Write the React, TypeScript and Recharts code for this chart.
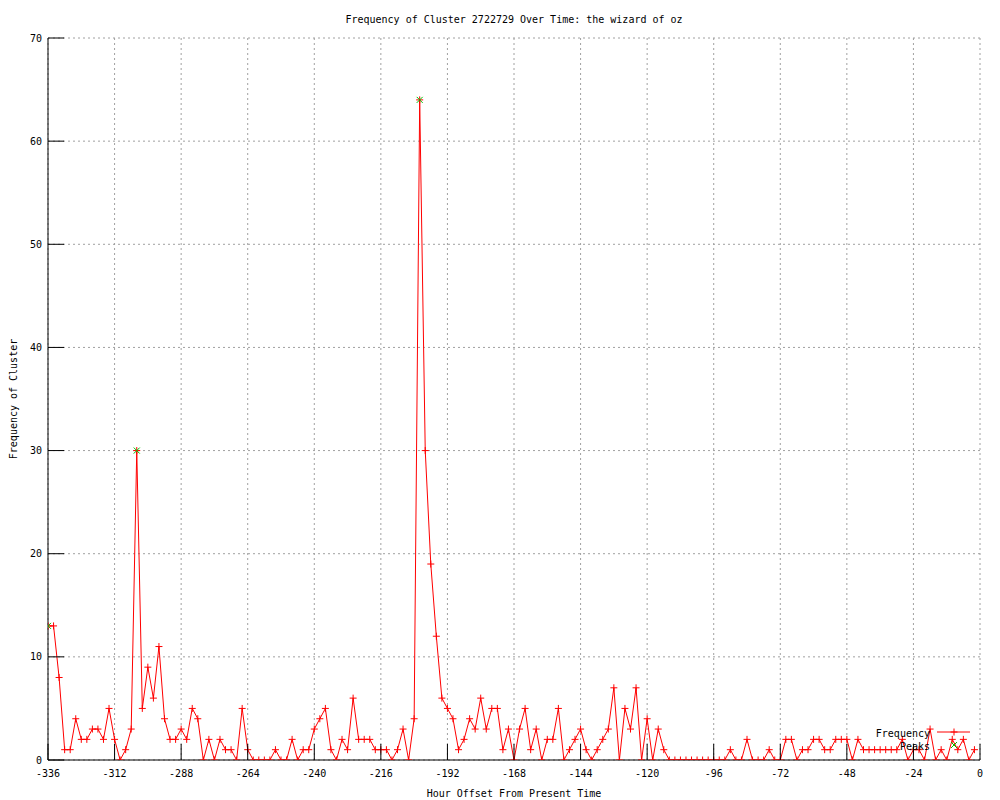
import React from "react";
import { LineChart, Line, XAxis, YAxis, CartesianGrid } from "recharts";

const START_HOUR = -336;
const HOUR_STEP = 2;

// counts every 2 hours, from -336 up to -2
const frequency = [
  13, 13, 8, 1, 1, 4, 2, 2, 3, 3, 2, 5,
  2, 0, 1, 3, 30, 5, 9, 6, 11, 4, 2, 2,
  3, 2, 5, 4, 0, 2, 0, 2, 1, 1, 0, 5,
  1, 0, 0, 0, 0, 1, 0, 0, 2, 0, 1, 1,
  3, 4, 5, 1, 0, 2, 1, 6, 2, 2, 2, 1,
  1, 1, 0, 1, 3, 0, 4, 64, 30, 19, 12, 6,
  5, 4, 1, 2, 4, 3, 6, 3, 5, 5, 1, 3,
  0, 3, 5, 1, 3, 0, 2, 2, 5, 0, 1, 2,
  3, 1, 0, 1, 2, 3, 7, 0, 5, 3, 7, 0,
  4, 0, 3, 1, 0, 0, 0, 0, 0, 0, 0, 0,
  0, 0, 0, 1, 0, 0, 2, 0, 0, 0, 1, 0,
  0, 2, 2, 0, 1, 1, 2, 2, 1, 1, 2, 2,
  2, 0, 2, 1, 1, 1, 1, 1, 1, 1, 2, 0,
  1, 1, 0, 3, 0, 1, 0, 2, 1, 2, 0, 1,
];

const peakHours = [-336, -304, -202];
const peakValues = [13, 30, 64];

const xTicks = [-336, -312, -288, -264, -240, -216, -192, -168, -144, -120, -96, -72, -48, -24, 0];
const yTicks = [0, 10, 20, 30, 40, 50, 60, 70];

const TITLE = "Frequency of Cluster 2722729 Over Time: the wizard of oz";
const X_LABEL = "Hour Offset From Present Time";
const Y_LABEL = "Frequency of Cluster";

const FONT = "'DejaVu Sans Mono', monospace";
const TICK_LEN = 16;
const RED = "#ff0000";
const GREEN = "#00c000";

const data = frequency.map((value, i) => {
  const hour = START_HOUR + i * HOUR_STEP;
  const p = peakHours.indexOf(hour);
  return { hour, frequency: value, peak: p >= 0 ? peakValues[p] : null };
});

function BottomTick({ x, y, payload }: any) {
  return (
    <g>
      <line x1={x} y1={y} x2={x} y2={y - TICK_LEN} stroke="#000" />
      <text x={x} y={y + 17} textAnchor="middle" fontSize={10} fontFamily={FONT} fill="#000">
        {payload.value}
      </text>
    </g>
  );
}

function TopTick({ x, y }: any) {
  return <line x1={x} y1={y} x2={x} y2={y + TICK_LEN} stroke="#000" />;
}

function LeftTick({ x, y, payload }: any) {
  return (
    <g>
      <line x1={x} y1={y} x2={x + TICK_LEN} y2={y} stroke="#000" />
      <text x={x - 6} y={y + 3.5} textAnchor="end" fontSize={10} fontFamily={FONT} fill="#000">
        {payload.value}
      </text>
    </g>
  );
}

function RightTick({ x, y }: any) {
  return <line x1={x} y1={y} x2={x - TICK_LEN} y2={y} stroke="#000" />;
}

function PlusDot({ cx, cy, index }: any) {
  if (cx == null || cy == null) return <g key={index} />;
  return <path key={index} d={`M${cx - 3.5},${cy}h7M${cx},${cy - 3.5}v7`} stroke={RED} strokeWidth={1} fill="none" />;
}

function CrossDot({ cx, cy, index, value }: any) {
  if (cx == null || cy == null || value == null) return <g key={index} />;
  return (
    <path
      key={index}
      d={`M${cx - 3},${cy - 3}l6,6M${cx - 3},${cy + 3}l6,-6`}
      stroke={GREEN}
      strokeWidth={1}
      fill="none"
    />
  );
}

export default function App() {
  return (
    <div style={{ position: "absolute", left: 0, top: 0, width: 1000, height: 800, background: "#fff" }}>
      <LineChart width={1000} height={800} data={data} margin={{ top: 38, right: 20, bottom: 0, left: 0 }}>
        <CartesianGrid stroke="#a0a0a0" strokeDasharray="2 3" />
        <XAxis
          dataKey="hour"
          type="number"
          domain={[-336, 0]}
          ticks={xTicks}
          allowDataOverflow
          height={40}
          tickLine={false}
          tickSize={0}
          tickMargin={0}
          tick={<BottomTick />}
          axisLine={{ stroke: "#000" }}
        />
        <XAxis
          xAxisId="top"
          orientation="top"
          type="number"
          domain={[-336, 0]}
          ticks={xTicks}
          allowDataOverflow
          height={0}
          tickLine={false}
          tickSize={0}
          tickMargin={0}
          tick={<TopTick />}
          axisLine={{ stroke: "#000" }}
        />
        <YAxis
          type="number"
          domain={[0, 70]}
          ticks={yTicks}
          allowDataOverflow
          width={48}
          tickLine={false}
          tickSize={0}
          tickMargin={0}
          tick={<LeftTick />}
          axisLine={{ stroke: "#000" }}
        />
        <YAxis
          yAxisId="right"
          orientation="right"
          type="number"
          domain={[0, 70]}
          ticks={yTicks}
          allowDataOverflow
          width={0}
          tickLine={false}
          tickSize={0}
          tickMargin={0}
          tick={<RightTick />}
          axisLine={{ stroke: "#000" }}
        />
        <Line
          type="linear"
          dataKey="frequency"
          stroke={RED}
          strokeWidth={1}
          dot={PlusDot}
          activeDot={false}
          isAnimationActive={false}
        />
        <Line
          type="linear"
          dataKey="peak"
          stroke="none"
          dot={CrossDot}
          activeDot={false}
          connectNulls={false}
          isAnimationActive={false}
        />
      </LineChart>
      <svg
        width={1000}
        height={800}
        style={{ position: "absolute", left: 0, top: 0, pointerEvents: "none" }}
        fontFamily={FONT}
        fontSize={10}
      >
        <text x={514} y={23} textAnchor="middle" fill="#000">{TITLE}</text>
        <text x={514} y={797} textAnchor="middle" fill="#000">{X_LABEL}</text>
        <text x={17} y={399} textAnchor="middle" fill="#000" transform="rotate(-90 17 399)">{Y_LABEL}</text>
        {/* legend */}
        <text x={930} y={737} textAnchor="end" fill="#000">Frequency</text>
        <line x1={937} y1={732} x2={970} y2={732} stroke={RED} />
        <path d="M950.5,732h7M954,728.5v7" stroke={RED} fill="none" />
        <text x={930} y={750} textAnchor="end" fill="#000">Peaks</text>
        <path d="M951,742l6,6M951,748l6,-6" stroke={GREEN} fill="none" />
      </svg>
    </div>
  );
}
